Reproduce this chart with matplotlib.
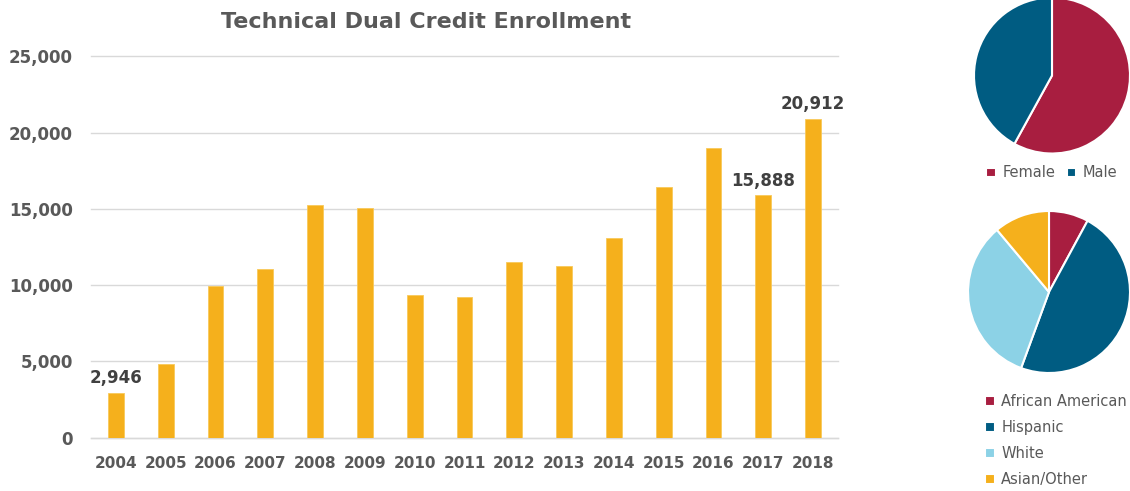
import matplotlib
matplotlib.use("Agg")
import matplotlib.pyplot as plt
from matplotlib.ticker import FuncFormatter, MultipleLocator

years = ["2004", "2005", "2006", "2007", "2008", "2009", "2010", "2011",
         "2012", "2013", "2014", "2015", "2016", "2017", "2018"]
enrollment = [2946, 4810, 9950, 11060, 15240, 15040, 9340, 9230,
              11540, 11240, 13080, 16440, 19000, 15888, 20912]
labeled_years = ["2004", "2017", "2018"]

gender_labels = ["Female", "Male"]
gender_share = [58, 42]

race_labels = ["African American", "Hispanic", "White", "Asian/Other"]
race_share = [7.9, 47.7, 33.3, 11.1]

GOLD = "#F5B01C"
CRIMSON = "#A81E40"
TEAL = "#005C82"
LIGHTBLUE = "#8CD2E6"
GRAY = "#595959"
DARK = "#404040"

plt.rcParams['font.family'] = ['DejaVu Sans']

W, H = 1130, 491
fig = plt.figure(figsize=(W / 100, H / 100), dpi=100)

def px_axes(left, top, right, bottom):
    return fig.add_axes([left / W, 1 - bottom / H, (right - left) / W, (bottom - top) / H])

# Bar chart
ax = px_axes(91, 56.5, 838, 437.7)
x = list(range(len(years)))
ax.bar(x, enrollment, width=0.32, color=GOLD, edgecolor="#F8C95A", linewidth=0.6, zorder=3)
ax.set_xlim(-0.5, 14.5)
ax.set_ylim(0, 25000)
ax.yaxis.set_major_locator(MultipleLocator(5000))
ax.yaxis.set_major_formatter(FuncFormatter(lambda v, p: f"{int(v):,}"))
ax.grid(axis="y", color="#D9D9D9", linewidth=1, zorder=0)
for gl in ax.get_ygridlines():
    gl.set_clip_on(False)
for s in ["top", "right", "left"]:
    ax.spines[s].set_visible(False)
ax.spines["bottom"].set_color("#D9D9D9")
ax.spines["bottom"].set_linewidth(1)
ax.tick_params(axis="both", length=0, colors=GRAY)
ax.tick_params(axis="y", pad=13)
ax.tick_params(axis="x", pad=13)
ax.set_xticks(x)
ax.set_xticklabels(years, fontsize=11, fontweight="bold", color=GRAY)
for lab in ax.get_yticklabels():
    lab.set_fontsize(12)
    lab.set_fontweight("bold")
    lab.set_color(GRAY)

for i, (yr, v) in enumerate(zip(years, enrollment)):
    if yr in labeled_years:
        ax.annotate(f"{v:,}", (i, v), xytext=(0, 4), textcoords="offset points",
                    ha="center", va="bottom", fontsize=12, fontweight="bold", color=DARK)

fig.text(426 / W, 1 - 22 / H, "Technical Dual Credit Enrollment", ha="center", va="center",
         fontsize=16, fontweight="bold", color=GRAY)

# Gender pie
cx, cy, r = 1052, 75.5, 78
pax1 = px_axes(cx - r, cy - r, cx + r, cy + r)
w1, _ = pax1.pie(gender_share, colors=[CRIMSON, TEAL], startangle=90, counterclock=False,
                 wedgeprops=dict(edgecolor="white", linewidth=1.5), radius=1)
pax1.set_xlim(-1, 1); pax1.set_ylim(-1, 1)
pax1.set_aspect("equal")

fig.legend(w1, gender_labels, loc="center", bbox_to_anchor=(1052 / W, 1 - 173 / H), ncol=2,
           frameon=False, fontsize=10.5, labelcolor=GRAY, handlelength=0.65, handleheight=0.65,
           handletextpad=0.45, columnspacing=0.8)

# Race pie
cx, cy, r = 1049, 292, 81
pax2 = px_axes(cx - r, cy - r, cx + r, cy + r)
w2, _ = pax2.pie(race_share, colors=[CRIMSON, TEAL, LIGHTBLUE, GOLD], startangle=90,
                 counterclock=False, wedgeprops=dict(edgecolor="white", linewidth=1.5), radius=1)
pax2.set_xlim(-1, 1); pax2.set_ylim(-1, 1)
pax2.set_aspect("equal")

fig.legend(w2, race_labels, loc="upper left", bbox_to_anchor=(972 / W, 1 - 381 / H), ncol=1,
           frameon=False, fontsize=10.5, labelcolor=GRAY, handlelength=0.65, handleheight=0.65,
           handletextpad=0.45, labelspacing=0.75)

fig.savefig("out.png", dpi=100, facecolor="white")
